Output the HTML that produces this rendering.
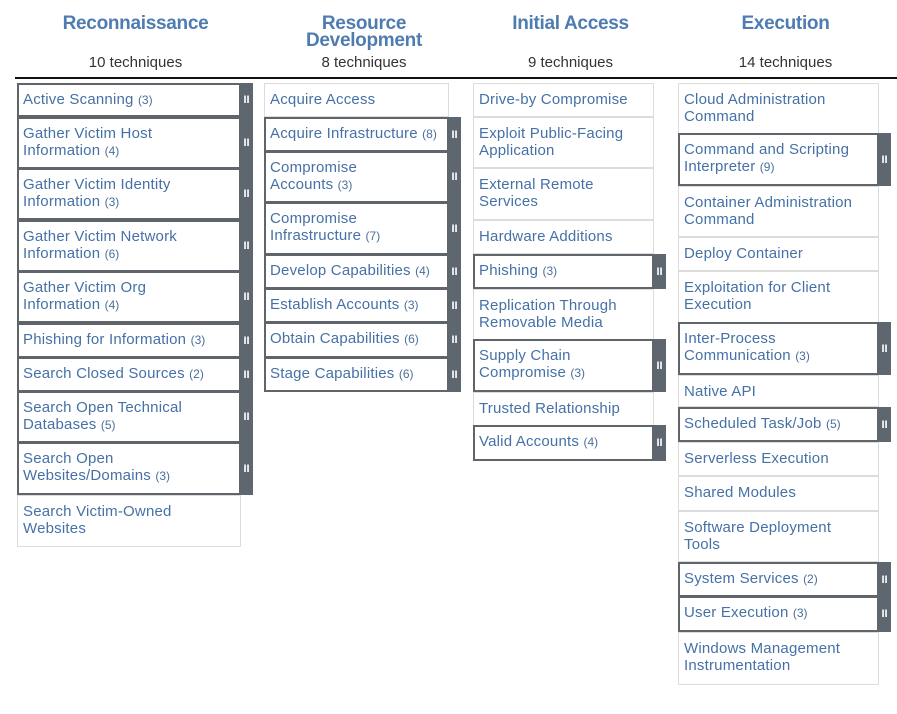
<!DOCTYPE html>
<html><head><meta charset="utf-8"><style>
body{margin:0;width:897px;height:714px;background:#fff;position:relative;overflow:hidden;font-family:"Liberation Sans",sans-serif}
.h{position:absolute;color:#4e7cb1;font-weight:bold;font-size:19px;line-height:17px;text-align:center;letter-spacing:-0.3px}
.n{position:absolute;color:#333;font-size:15px;text-align:center;top:54px}
.c{position:absolute;box-sizing:border-box;border:1px solid #dcdcdc;padding:7px 0 0 5px;color:#4571a6;font-size:15px;line-height:17px;background:#fff;letter-spacing:0.2px}
.s{border:2px solid #60656c;padding:6px 0 0 4px}
.c small{font-size:12px;color:#4a6f9a;letter-spacing:0}
.b{position:absolute;background:#5e666f;width:13px;color:#fff;display:flex;align-items:center;justify-content:center}
.b:after{content:"II";font-size:11px;font-weight:bold;letter-spacing:0}
.ln{position:absolute;left:15px;top:77px;width:882px;height:2px;background:#111}
</style></head><body>
<div class="h" style="left:17px;width:237px;top:15px">Reconnaissance</div>
<div class="h" style="left:264px;width:200px;top:15px">Resource<br>Development</div>
<div class="h" style="left:473px;width:195px;top:15px">Initial Access</div>
<div class="h" style="left:678px;width:215px;top:15px">Execution</div>
<div class="n" style="left:17px;width:237px">10 techniques</div>
<div class="n" style="left:264px;width:200px">8 techniques</div>
<div class="n" style="left:473px;width:195px">9 techniques</div>
<div class="n" style="left:678px;width:215px">14 techniques</div>
<div class="ln"></div>

<!-- col1 -->
<div class="c s" style="left:17px;width:224px;top:83px;height:34px">Active Scanning <small>(3)</small></div><div class="b" style="left:240px;top:83px;height:34px"></div>
<div class="c s" style="left:17px;width:224px;top:117px;height:52px">Gather Victim Host<br>Information <small>(4)</small></div><div class="b" style="left:240px;top:117px;height:52px"></div>
<div class="c s" style="left:17px;width:224px;top:168px;height:52px">Gather Victim Identity<br>Information <small>(3)</small></div><div class="b" style="left:240px;top:168px;height:52px"></div>
<div class="c s" style="left:17px;width:224px;top:220px;height:52px">Gather Victim Network<br>Information <small>(6)</small></div><div class="b" style="left:240px;top:220px;height:52px"></div>
<div class="c s" style="left:17px;width:224px;top:271px;height:52px">Gather Victim Org<br>Information <small>(4)</small></div><div class="b" style="left:240px;top:271px;height:52px"></div>
<div class="c s" style="left:17px;width:224px;top:323px;height:35px">Phishing for Information <small>(3)</small></div><div class="b" style="left:240px;top:323px;height:35px"></div>
<div class="c s" style="left:17px;width:224px;top:357px;height:35px">Search Closed Sources <small>(2)</small></div><div class="b" style="left:240px;top:357px;height:35px"></div>
<div class="c s" style="left:17px;width:224px;top:391px;height:52px">Search Open Technical<br>Databases <small>(5)</small></div><div class="b" style="left:240px;top:391px;height:52px"></div>
<div class="c s" style="left:17px;width:224px;top:442px;height:53px">Search Open<br>Websites/Domains <small>(3)</small></div><div class="b" style="left:240px;top:442px;height:53px"></div>
<div class="c" style="left:17px;width:224px;top:495px;height:52px">Search Victim-Owned<br>Websites</div>

<!-- col2 -->
<div class="c" style="left:264px;width:185px;top:83px;height:34px">Acquire Access</div>
<div class="c s" style="left:264px;width:185px;top:117px;height:35px">Acquire Infrastructure <small>(8)</small></div><div class="b" style="left:448px;top:117px;height:35px"></div>
<div class="c s" style="left:264px;width:185px;top:151px;height:52px">Compromise<br>Accounts <small>(3)</small></div><div class="b" style="left:448px;top:151px;height:52px"></div>
<div class="c s" style="left:264px;width:185px;top:202px;height:53px">Compromise<br>Infrastructure <small>(7)</small></div><div class="b" style="left:448px;top:202px;height:53px"></div>
<div class="c s" style="left:264px;width:185px;top:254px;height:35px">Develop Capabilities <small>(4)</small></div><div class="b" style="left:448px;top:254px;height:35px"></div>
<div class="c s" style="left:264px;width:185px;top:288px;height:35px">Establish Accounts <small>(3)</small></div><div class="b" style="left:448px;top:288px;height:35px"></div>
<div class="c s" style="left:264px;width:185px;top:322px;height:36px">Obtain Capabilities <small>(6)</small></div><div class="b" style="left:448px;top:322px;height:36px"></div>
<div class="c s" style="left:264px;width:185px;top:357px;height:35px">Stage Capabilities <small>(6)</small></div><div class="b" style="left:448px;top:357px;height:35px"></div>

<!-- col3 -->
<div class="c" style="left:473px;width:181px;top:83px;height:34px">Drive-by Compromise</div>
<div class="c" style="left:473px;width:181px;top:117px;height:51px">Exploit Public-Facing<br>Application</div>
<div class="c" style="left:473px;width:181px;top:168px;height:52px">External Remote<br>Services</div>
<div class="c" style="left:473px;width:181px;top:220px;height:34px">Hardware Additions</div>
<div class="c s" style="left:473px;width:181px;top:254px;height:35px">Phishing <small>(3)</small></div><div class="b" style="left:653px;top:254px;height:35px"></div>
<div class="c" style="left:473px;width:181px;top:289px;height:51px">Replication Through<br>Removable Media</div>
<div class="c s" style="left:473px;width:181px;top:339px;height:53px">Supply Chain<br>Compromise <small>(3)</small></div><div class="b" style="left:653px;top:339px;height:53px"></div>
<div class="c" style="left:473px;width:181px;top:392px;height:34px">Trusted Relationship</div>
<div class="c s" style="left:473px;width:181px;top:425px;height:36px">Valid Accounts <small>(4)</small></div><div class="b" style="left:653px;top:425px;height:36px"></div>

<!-- col4 -->
<div class="c" style="left:678px;width:201px;top:83px;height:51px">Cloud Administration<br>Command</div>
<div class="c s" style="left:678px;width:201px;top:133px;height:53px">Command and Scripting<br>Interpreter <small>(9)</small></div><div class="b" style="left:878px;top:133px;height:53px"></div>
<div class="c" style="left:678px;width:201px;top:186px;height:51px">Container Administration<br>Command</div>
<div class="c" style="left:678px;width:201px;top:237px;height:34px">Deploy Container</div>
<div class="c" style="left:678px;width:201px;top:271px;height:52px">Exploitation for Client<br>Execution</div>
<div class="c s" style="left:678px;width:201px;top:322px;height:53px">Inter-Process<br>Communication <small>(3)</small></div><div class="b" style="left:878px;top:322px;height:53px"></div>
<div class="c" style="left:678px;width:201px;top:375px;height:32px">Native API</div>
<div class="c s" style="left:678px;width:201px;top:407px;height:35px">Scheduled Task/Job <small>(5)</small></div><div class="b" style="left:878px;top:407px;height:35px"></div>
<div class="c" style="left:678px;width:201px;top:442px;height:34px">Serverless Execution</div>
<div class="c" style="left:678px;width:201px;top:476px;height:35px">Shared Modules</div>
<div class="c" style="left:678px;width:201px;top:511px;height:51px">Software Deployment<br>Tools</div>
<div class="c s" style="left:678px;width:201px;top:562px;height:35px">System Services <small>(2)</small></div><div class="b" style="left:878px;top:562px;height:35px"></div>
<div class="c s" style="left:678px;width:201px;top:596px;height:36px">User Execution <small>(3)</small></div><div class="b" style="left:878px;top:596px;height:36px"></div>
<div class="c" style="left:678px;width:201px;top:632px;height:53px">Windows Management<br>Instrumentation</div>
</body></html>
